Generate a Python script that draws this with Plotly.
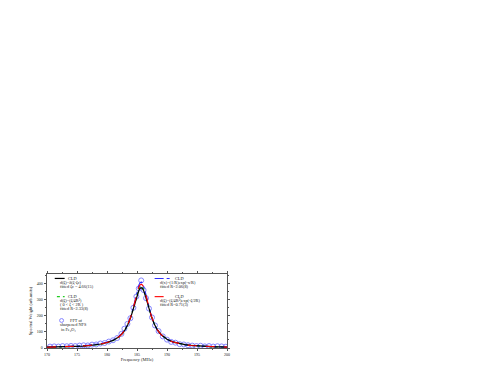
import plotly.graph_objects as go

# ---- data ----
x_fit = [170, 171, 172, 173, 174, 175, 176, 177, 178, 179, 180, 181, 182, 182.5, 183, 183.5,
         184, 184.5, 185, 185.3, 185.5, 185.7, 185.9, 186.1, 186.4, 186.9, 187.4, 187.9,
         188.4, 189, 190, 191, 192, 193, 194, 195, 196, 197, 198, 199, 200]
cld_delta = [5, 5.5, 6, 7, 8.5, 10, 12, 15, 19, 25, 34, 47, 70, 88, 113, 148, 195, 258, 325, 357,
             370, 375, 370, 357, 324, 257, 195, 147, 112, 84, 54, 38, 28, 21, 16, 13, 11, 9, 7.5, 6.5, 5.5]
cld_tri = [4.5, 5, 6, 7, 8, 9.5, 11.5, 14.5, 18, 23.5, 32, 45, 68, 86, 111, 147, 196, 262, 333, 366,
           380, 385, 380, 366, 332, 261, 196, 148, 112, 83, 53, 37, 27, 20, 16, 12.5, 10.5, 8.5, 7.2, 6.2, 5.4]
cld_exp = [6, 6.5, 7.5, 8.5, 10, 12, 14, 17, 21, 27, 36, 49, 71, 89, 113, 150, 200, 270, 350, 390,
           405, 410, 403, 385, 345, 268, 198, 148, 111, 82, 52, 36, 26, 19.5, 15.5, 12.5, 10, 8.5, 7, 6, 5.2]
cld_gamma = [5, 5.5, 6.5, 7.5, 9, 10.5, 12.5, 15.5, 19.5, 25, 34, 47, 70, 88, 113, 149, 198, 266, 342, 378,
             392, 396, 392, 378, 340, 265, 197, 148, 112, 83, 53, 37, 27, 20, 16, 13, 10.5, 8.7, 7.4, 6.3, 5.5]

x_fft = [170.5, 171.2, 171.9, 172.6, 173.3, 174.0, 174.7, 175.4, 176.1, 176.8, 177.5, 178.2, 178.9,
         179.6, 180.3, 181.0, 181.7, 182.4, 182.9, 183.4, 183.9, 184.4, 184.9, 185.3, 185.7, 186.1,
         186.5, 187.0, 187.5, 188.0, 188.6, 189.3, 190.0, 190.7, 191.4, 192.1, 192.8, 193.5, 194.2,
         194.9, 195.6, 196.3, 197.0, 197.7, 198.4, 199.1, 199.8]
y_fft = [9, 10, 9, 12, 11, 13, 12, 15, 17, 16, 21, 22, 28, 31, 40, 48, 62, 88, 120, 150, 185, 250, 320,
         370, 420, 360, 310, 245, 190, 140, 105, 72, 52, 38, 33, 24, 22, 17, 15, 12, 14, 10, 12, 9, 11, 10, 8]

x_ticks = [170, 175, 180, 185, 190, 195, 200]
y_ticks = [0, 100, 200, 300, 400]

FONT = "Liberation Serif"
TXT = "#222222"

fig = go.Figure()
fig.add_trace(go.Scatter(x=x_fft, y=y_fft, mode="markers",
                         marker=dict(symbol="circle-open", size=5, color="#8585ff", line=dict(width=1))))
fig.add_trace(go.Scatter(x=x_fit, y=cld_tri, mode="lines", line=dict(color="#22cc22", width=1.3, dash="dot")))
fig.add_trace(go.Scatter(x=x_fit, y=cld_exp, mode="lines", line=dict(color="#3030ff", width=1.1, dash="dashdot")))
fig.add_trace(go.Scatter(x=x_fit, y=cld_delta, mode="lines", line=dict(color="#000000", width=1.2)))
fig.add_trace(go.Scatter(x=x_fit, y=cld_gamma, mode="lines", line=dict(color="#ff0000", width=1.1, dash="dash")))

# legend-like labels
def ann(x, y, text):
    fig.add_annotation(x=x, y=y, xref="paper", yref="paper", text=text, showarrow=False,
                       xanchor="left", yanchor="middle", font=dict(family=FONT, size=4.3, color=TXT))

rows_l = [0.940, 0.885, 0.830, 0.694, 0.640, 0.586, 0.532, 0.372, 0.314, 0.254]
rows_r = [0.940, 0.885, 0.830, 0.694, 0.640, 0.586]

ann(0.108, rows_l[0], "CLD")
ann(0.061, rows_l[1], "d(ζ)=δ(ζ-ζc)")
ann(0.061, rows_l[2], "fitted ζc = 4.66(15)")
ann(0.108, rows_l[3], "CLD")
ann(0.061, rows_l[4], "d(ζ)=(ζ/4R²)")
ann(0.061, rows_l[5], "( 0 < ζ < 2R )")
ann(0.061, rows_l[6], "fitted R=2.33(8)")
ann(0.118, rows_l[7], "FFT of")
ann(0.061, rows_l[8], "sharpened NFS")
ann(0.065, rows_l[9], "in Fe₃O₄")

ann(0.700, rows_r[0], "CLD")
ann(0.617, rows_r[1], "d(x)=(1/R)exp(-x/R)")
ann(0.617, rows_r[2], "fitted R=2.06(8)")
ann(0.700, rows_r[3], "CLD")
ann(0.617, rows_r[4], "d(ζ)=(ζ/4R²)exp(-ζ/2R)")
ann(0.617, rows_r[5], "fitted R=0.71(3)")

# legend samples
fig.add_shape(type="line", xref="paper", yref="paper", x0=0.043, x1=0.098, y0=rows_l[0], y1=rows_l[0],
              line=dict(color="#000000", width=1.2))
fig.add_shape(type="line", xref="paper", yref="paper", x0=0.055, x1=0.098, y0=rows_l[3], y1=rows_l[3],
              line=dict(color="#22cc22", width=1.3, dash="dot"))
fig.add_shape(type="line", xref="paper", yref="paper", x0=0.598, x1=0.691, y0=rows_r[0], y1=rows_r[0],
              line=dict(color="#3030ff", width=1.1, dash="dashdot"))
fig.add_shape(type="line", xref="paper", yref="paper", x0=0.598, x1=0.691, y0=rows_r[3], y1=rows_r[3],
              line=dict(color="#ff0000", width=1.1, dash="dash"))
fig.add_shape(type="circle", xref="paper", yref="paper", x0=0.070, x1=0.092,
              y0=rows_l[7] - 0.026, y1=rows_l[7] + 0.026, line=dict(color="#8585ff", width=1))

axis_common = dict(showline=True, linecolor="#555555", linewidth=0.8, mirror="ticks", ticks="outside",
                   ticklen=2.5, tickwidth=0.6, tickcolor="#555555", showgrid=False, zeroline=False,
                   tickfont=dict(family=FONT, size=4, color=TXT))

fig.update_layout(
    width=480, height=365, plot_bgcolor="white", paper_bgcolor="white", showlegend=False,
    margin=dict(l=39, r=261, t=266, b=20.5),
    xaxis=dict(range=[170, 200], tickvals=x_ticks, ticktext=[str(v) for v in x_ticks],
               minor=dict(ticks="outside", ticklen=1.5, dtick=2.5, tickcolor="#555555"),
               title=dict(text="Frequency (MHz)", font=dict(family=FONT, size=4.5, color=TXT), standoff=1),
               **axis_common),
    yaxis=dict(range=[0, 460], tickvals=y_ticks, ticktext=[str(v) for v in y_ticks],
               minor=dict(ticks="outside", ticklen=1.5, dtick=50, tickcolor="#555555"),
               title=dict(text="Spectral Weight (arb.units)", font=dict(family=FONT, size=4.5, color=TXT), standoff=4),
               **axis_common),
)

fig.write_html("out.html")
